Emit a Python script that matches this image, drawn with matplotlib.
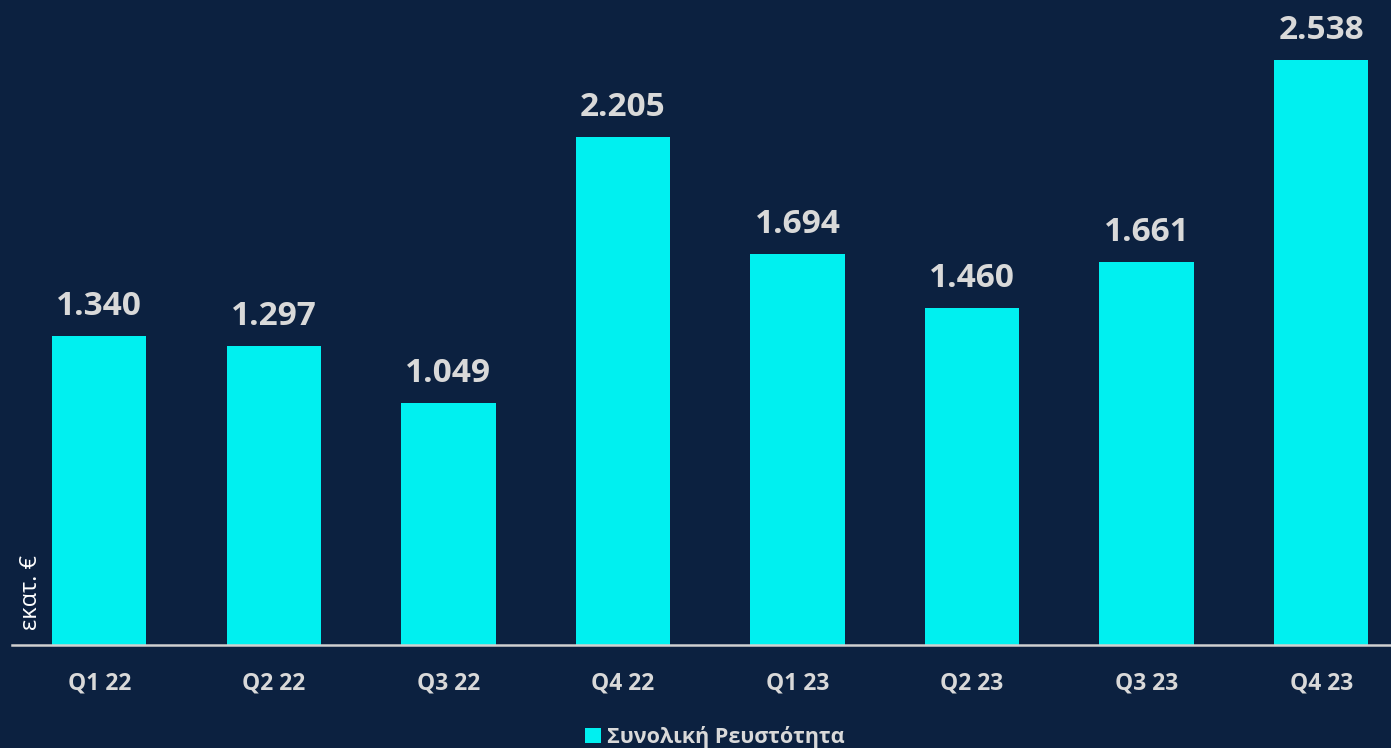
import matplotlib
matplotlib.use("Agg")
import matplotlib.pyplot as plt

categories = ["Q1 22", "Q2 22", "Q3 22", "Q4 22", "Q1 23", "Q2 23", "Q3 23", "Q4 23"]
values = [1340, 1297, 1049, 2205, 1694, 1460, 1661, 2538]
labels = ["1.340", "1.297", "1.049", "2.205", "1.694", "1.460", "1.661", "2.538"]
series_name = "Συνολική Ρευστότητα"
y_label = "εκατ. €"

BG = "#0C2140"
BAR = "#00F0F0"
TXT = "#D9D9D9"

plt.rcParams['font.family'] = ['Open Sans', 'DejaVu Sans']

fig = plt.figure(figsize=(13.91, 7.48), dpi=100, facecolor=BG)
ax = fig.add_axes([12/1391, 1 - 645/748, 1 - 12/1391, 645/748])
ax.set_facecolor(BG)

x = list(range(len(categories)))
bars = ax.bar(x, values, width=0.54, color=BAR, label=series_name, zorder=2)
for xi, v, lab in zip(x, values, labels):
    ax.annotate(lab, (xi, v), xytext=(0, 9.5), textcoords="offset points",
                ha="center", va="bottom", fontsize=24, fontweight="bold", color=TXT)

ax.set_xlim(-0.5, 7.4)
ax.set_ylim(0, 2798)
ax.set_xticks(x)
ax.set_xticklabels(categories, fontsize=16.5, fontweight="bold", color=TXT)
ax.tick_params(axis="x", length=0, pad=19)
ax.set_yticks([])
for s in ["top", "right", "left"]:
    ax.spines[s].set_visible(False)
ax.spines["bottom"].set_color("#D0D0D0")
ax.spines["bottom"].set_linewidth(1.8)

fig.text(31/1391, 1 - 592/748, y_label, rotation=90, ha="center", va="center",
         fontsize=17, color="white")

leg = fig.legend(handles=[bars], labels=[series_name], loc="center",
                 bbox_to_anchor=(715/1391, 1 - 737/748), frameon=False,
                 prop={"size": 15.5, "weight": "bold"}, handlelength=0.75,
                 handleheight=0.75, handletextpad=0.3)
for t in leg.get_texts():
    t.set_color(TXT)

fig.savefig("out.png", dpi=100, facecolor=BG)
